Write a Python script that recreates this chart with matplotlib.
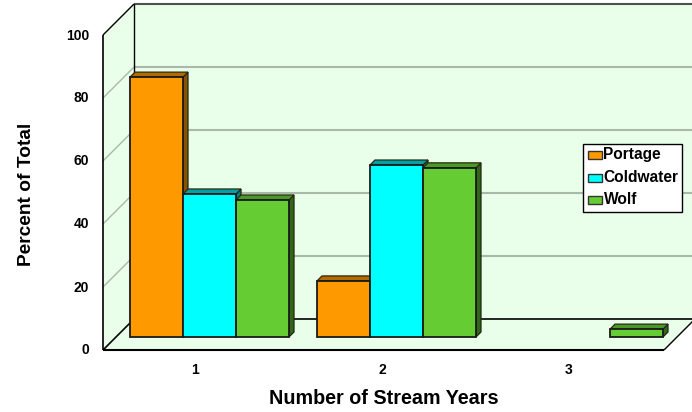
import matplotlib
matplotlib.use("Agg")
import matplotlib.pyplot as plt
from matplotlib.patches import Polygon, Rectangle
from matplotlib.transforms import IdentityTransform, ScaledTranslation

categories = [1, 2, 3]
series_names = ["Portage", "Coldwater", "Wolf"]
portage = [82.5, 17.8, 0]
coldwater = [45.4, 54.6, 0]
wolf = [43.5, 53.7, 2.5]
y_ticks = [0, 20, 40, 60, 80, 100]

faces = ["#FF9900", "#00FFFF", "#66CC33"]
tops = ["#B36B00", "#00A0A8", "#4A9926"]
sides = ["#8A5200", "#007F80", "#336619"]
WALL = "#E9FFE9"
GRID = "#A9B8A9"

W, H = 692, 412
plt.rcParams["font.family"] = ["Liberation Sans", "DejaVu Sans"]
plt.rcParams["font.weight"] = "bold"

fig = plt.figure(figsize=(W / 100, H / 100), dpi=100)
FL, FR, FB, FT = 103.0, 664.0, 350.0, 35.0
ax = fig.add_axes([FL / W, 1 - FB / H, (FR - FL) / W, (FB - FT) / H])
ax.set_xlim(0.5, 3.5)
ax.set_ylim(0, 100)
ax.patch.set_visible(False)
for s in ax.spines.values():
    s.set_visible(False)

WALL_DEPTH = 31
BAR_OFFSET = 13
BAR_DEPTH = 5
BAR_WIDTH = 53 / 187


def project(x, v, depth=0):
    px, py = ax.transData.transform((x, v))
    return (px + depth, py + depth)


def poly(pts, face="none", edge="none", lw=1.0, z=1):
    p = Polygon(pts, closed=True, facecolor=face, edgecolor=edge, linewidth=lw,
                zorder=z, clip_on=False, joinstyle="miter")
    ax.add_patch(p)
    p.set_transform(IdentityTransform())
    return p


def line(a, b, color, lw, z=2):
    ax.plot([a[0], b[0]], [a[1], b[1]], color=color, lw=lw, zorder=z,
            transform=IdentityTransform(), clip_on=False,
            solid_capstyle="butt")


x0, x1 = 0.5, 3.5
# floor, back wall and left wall
poly([project(x0, 0), project(x1, 0), project(x1, 0, WALL_DEPTH), project(x0, 0, WALL_DEPTH)], WALL, z=1)
poly([project(x0, 0, WALL_DEPTH), project(x1, 0, WALL_DEPTH), project(x1, 100, WALL_DEPTH), project(x0, 100, WALL_DEPTH)], WALL, z=1)
poly([project(x0, 0), project(x0, 0, WALL_DEPTH), project(x0, 100, WALL_DEPTH), project(x0, 100)], WALL, z=1)

# gridlines run along the left wall and across the back wall
for v in y_ticks[1:-1]:
    line(project(x0, v), project(x0, v, WALL_DEPTH), GRID, 1.0)
    line(project(x0, v, WALL_DEPTH), project(x1, v, WALL_DEPTH), GRID, 1.5)

line(project(x0, 100, WALL_DEPTH), project(x1, 100, WALL_DEPTH), "#505050", 1.5)
line(project(x0, 0, WALL_DEPTH), project(x1, 0, WALL_DEPTH), "black", 1.2)
line(project(x0, 0, WALL_DEPTH), project(x0, 100, WALL_DEPTH), "black", 1.0)
line(project(x0, 0), project(x0, 100), "black", 1.2)
line(project(x0, 100), project(x0, 100, WALL_DEPTH), "black", 1.0)
line(project(x0, 0), project(x0, 0, WALL_DEPTH), "black", 1.2)
line(project(x0, 0), project(x1, 0), "black", 1.5)
line(project(x1, 0), project(x1, 0, WALL_DEPTH), "black", 1.0)

# three-dimensional bars; each series overlaps the side of the one to its left
for i, values in enumerate([portage, coldwater, wolf]):
    for c, v in zip(categories, values):
        if v <= 0:
            continue
        left = c + (i - 1.5) * BAR_WIDTH
        right = left + BAR_WIDTH
        d0, d1 = BAR_OFFSET, BAR_OFFSET + BAR_DEPTH
        z = 3 + i * 0.1
        poly([project(right, 0, d0), project(right, 0, d1), project(right, v, d1), project(right, v, d0)],
             sides[i], "#1A2A10", 0.9, z)
        poly([project(left, v, d0), project(right, v, d0), project(right, v, d1), project(left, v, d1)],
             tops[i], "#2A2A10", 0.9, z)
        poly([project(left, 0, d0), project(right, 0, d0), project(right, v, d0), project(left, v, d0)],
             faces[i], "#1A1A1A", 1.3, z + 0.01)

ax.set_xticks(categories)
ax.set_yticks(y_ticks)
ax.tick_params(axis="x", length=0, pad=9, labelsize=10)
ax.tick_params(axis="y", length=0, pad=10, labelsize=10)

# small nudges for the tick labels
nudge_x = ScaledTranslation(-1.5 / 100, 0, fig.dpi_scale_trans)
nudge_y = ScaledTranslation(0, 1.0 / 100, fig.dpi_scale_trans)
for lab in ax.get_xticklabels():
    lab.set_transform(lab.get_transform() + nudge_x)
for lab in ax.get_yticklabels():
    lab.set_transform(lab.get_transform() + nudge_y)

ax.set_xlabel("Number of Stream Years", fontsize=14.2, fontweight="bold", labelpad=9)
fig.text(27 / W, 1 - 194 / H, "Percent of Total", rotation=90, fontsize=13.8,
         fontweight="bold", ha="center", va="center")

# legend panel
lx0, lx1, ly0, ly1 = 583.0, 682.0, H - 211.5, H - 143.5
fig.add_artist(Rectangle((lx0 / W, ly0 / H), (lx1 - lx0) / W, (ly1 - ly0) / H,
                         transform=fig.transFigure, facecolor="white",
                         edgecolor="black", linewidth=1.0, zorder=5))
for i, (name, yc) in enumerate(zip(series_names, [155, 178, 200])):
    fig.add_artist(Rectangle((587.5 / W, 1 - (yc + 4) / H), 14 / W, 8 / H,
                             transform=fig.transFigure, facecolor=faces[i],
                             edgecolor="#333333", linewidth=1.0, zorder=6))
    fig.text(603.5 / W, 1 - yc / H, name, fontsize=11.2, fontweight="bold",
             ha="left", va="center", zorder=6)

fig.savefig("out.png", dpi=100)
